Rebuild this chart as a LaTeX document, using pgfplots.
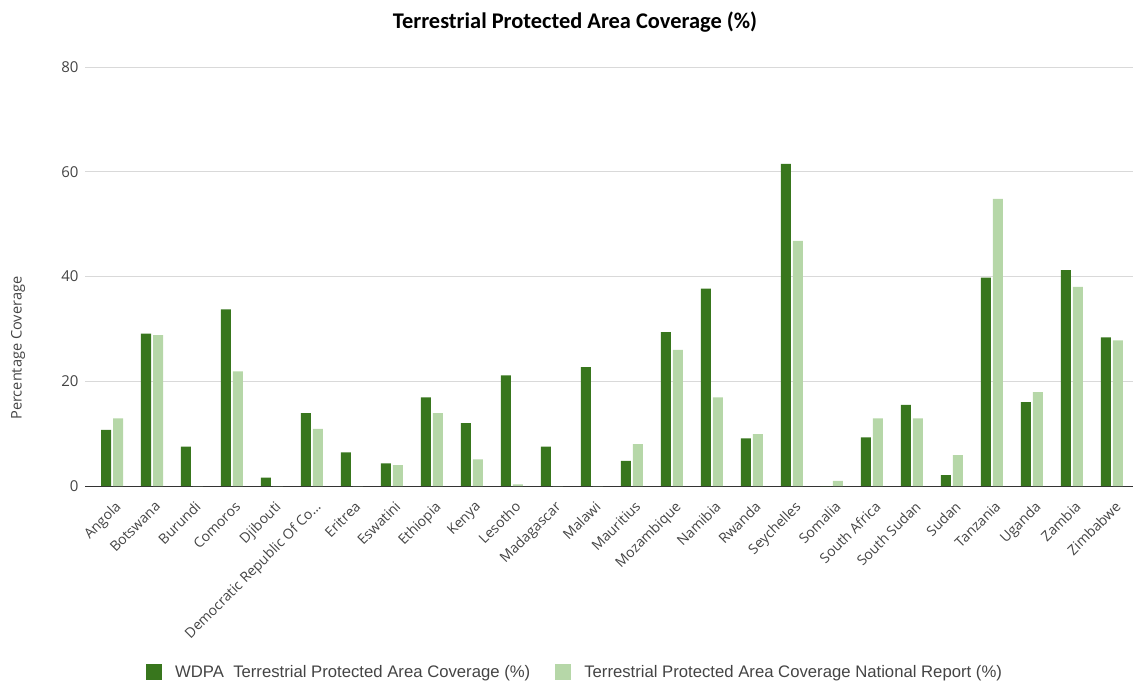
\documentclass[border=0pt]{standalone}
\usepackage{fontspec}
\setmainfont{Open Sans}
\newfontfamily\titlefont{Carlito}
\newfontfamily\legendfont{Liberation Sans}
\usepackage{pgfplots}
\usepackage{pgfplotstable}
\pgfplotsset{compat=1.18}

\definecolor{wdpa}{HTML}{38761D}
\definecolor{natrep}{HTML}{B6D7A8}
\definecolor{gridgray}{HTML}{D9D9D9}
\definecolor{basegray}{HTML}{333333}
\definecolor{textgray}{HTML}{444444}

% idx, WDPA coverage, national report coverage (%)
\pgfplotstableread{
idx wdpa natrep
0  10.7 12.9
1  29.1 28.8
2  7.5  0
3  33.7 21.9
4  1.6  0
5  13.9 10.9
6  6.4  0
7  4.3  4.0
8  16.9 13.9
9  12.0 5.1
10 21.1 0.3
11 7.5  0
12 22.7 0
13 4.8  8.0
14 29.4 26.0
15 37.7 16.9
16 9.1  9.9
17 61.5 46.8
18 0    1.0
19 9.3  12.9
20 15.5 12.9
21 2.1  5.9
22 39.8 54.8
23 16.0 17.9
24 41.2 38.0
25 28.4 27.8
}\coverage

\begin{document}
\begin{tikzpicture}
\useasboundingbox (0,0) rectangle (1133pt,683pt);
\begin{axis}[
  at={(85pt,197pt)}, anchor=south west,
  scale only axis,
  width=1048pt, height=419pt,
  xmin=-0.675, xmax=25.525,
  ymin=0, ymax=80,
  ybar=2pt, bar width=10pt,
  axis lines*=left,
  y axis line style={draw=none},
  x axis line style={draw=basegray, line width=1pt},
  ymajorgrids,
  grid style={draw=gridgray, line width=1pt},
  major tick length=0pt,
  ytick={0,20,40,60,80},
  xtick={0,1,2,3,4,5,6,7,8,9,10,11,12,13,14,15,16,17,18,19,20,21,22,23,24,25},
  xticklabels={Angola,Botswana,Burundi,Comoros,Djibouti,{Democratic Republic Of Co\ldots},Eritrea,Eswatini,Ethiopia,Kenya,Lesotho,Madagascar,Malawi,Mauritius,Mozambique,Namibia,Rwanda,Seychelles,Somalia,South Africa,South Sudan,Sudan,Tanzania,Uganda,Zambia,Zimbabwe},
  /pgf/number format/assume math mode=true,
  yticklabel style={font=\fontsize{15}{17}\selectfont, text=textgray, xshift=-3pt},
  xticklabel style={font=\fontsize{14}{16}\selectfont, text=textgray, rotate=45, anchor=north east, inner sep=1pt, xshift=-7.5pt, yshift=-10.5pt},
  ylabel={Percentage Coverage},
  ylabel style={font=\fontsize{14.6}{16}\selectfont, text=textgray, at={(axis description cs:-0.0639,0.329)}, anchor=center, rotate=0},
  title={Terrestrial Protected Area Coverage (\%)},
  title style={font=\titlefont\bfseries\fontsize{22.4}{24}\selectfont, at={(axis description cs:0.4676,1.092)}, anchor=center},
  legend columns=2,
  legend style={draw=none, fill=none, at={(axis description cs:0.0553,-0.444)}, anchor=west,
    font=\legendfont\fontsize{16.7}{19}\selectfont, text=textgray,
    nodes={inner sep=0pt},
    /tikz/every odd column/.append style={column sep=13pt},
    /tikz/every even column/.append style={column sep=25pt}},
  legend image code/.code={\fill[#1] (0pt,-8pt) rectangle (16pt,8pt);},
]
\addplot[fill=wdpa, draw=none] table[x=idx, y=wdpa] {\coverage};
\addlegendentry{WDPA\ \ Terrestrial Protected Area Coverage (\%)}
\addplot[fill=natrep, draw=none] table[x=idx, y=natrep] {\coverage};
\addlegendentry{Terrestrial Protected Area Coverage National Report (\%)}
\end{axis}
\end{tikzpicture}
\end{document}
